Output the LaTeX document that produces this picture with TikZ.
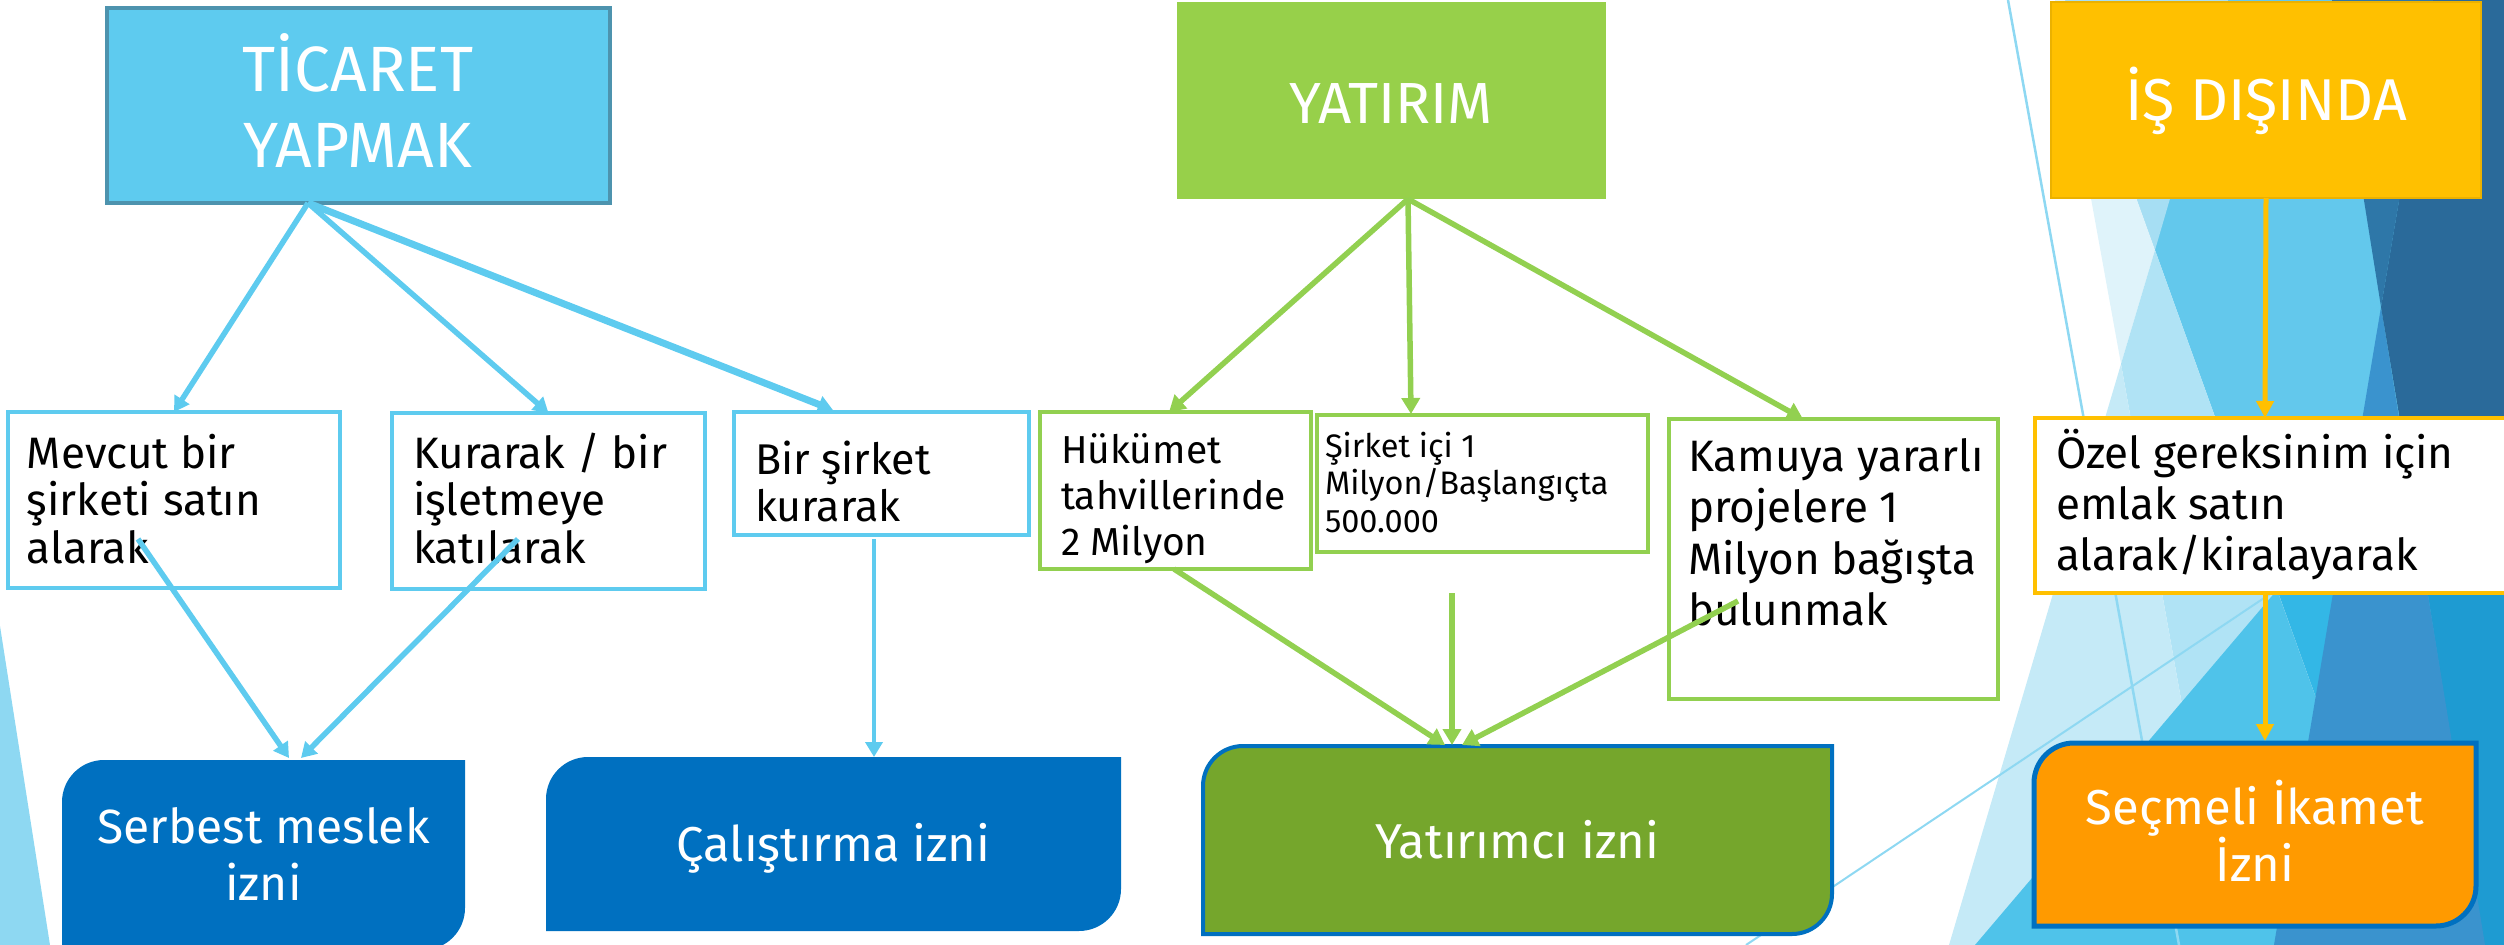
\documentclass[tikz,border=0pt]{standalone}
\usepackage{fontspec}
\setmainfont{Fira Sans}
\usetikzlibrary{arrows.meta,calc}
\definecolor{tblue}{HTML}{5ECBEF}
\definecolor{tblueb}{HTML}{4D93AE}
\definecolor{tgreen}{HTML}{92D050}
\definecolor{hgreen}{HTML}{97D04A}
\definecolor{tgold}{HTML}{FFC000}
\definecolor{pblue}{HTML}{0070C0}
\definecolor{pgreen}{HTML}{75A62C}
\definecolor{porange}{HTML}{FF9A00}
\definecolor{bgM}{HTML}{63C8EC}
\definecolor{bgTW}{HTML}{A6DEF3}
\definecolor{bgLW}{HTML}{DFF3FA}
\definecolor{bgDa}{HTML}{B0E3F5}
\definecolor{bgDb}{HTML}{C5EAF7}
\definecolor{bgD}{HTML}{4FC3EA}
\definecolor{bgC}{HTML}{33B7E6}
\definecolor{bgF}{HTML}{3A93CE}
\definecolor{bgR}{HTML}{1E9BD2}
\definecolor{bgK}{HTML}{2A6A9A}
\definecolor{bgKW}{HTML}{2E77A8}
\definecolor{bgL}{HTML}{8ED8F2}
\newcommand\rdshape[3]{%
  \path[#3] ([xshift=#2pt]#1.north west) -- (#1.north east) -- ([yshift=#2pt]#1.south east)
    .. controls ([yshift=0.448*#2pt]#1.south east) and ([xshift=-0.448*#2pt]#1.south east) .. ([xshift=-#2pt]#1.south east)
    -- (#1.south west) -- ([yshift=-#2pt]#1.north west)
    .. controls ([yshift=-0.448*#2pt]#1.north west) and ([xshift=0.448*#2pt]#1.north west) .. ([xshift=#2pt]#1.north west) -- cycle;}
\tikzset{
  wbox/.style={rectangle, fill=white, line width=4pt, inner sep=0pt, outer sep=0pt},
  hbox/.style={rectangle, inner sep=0pt, outer sep=0pt},
  shp/.style={rectangle, inner sep=0pt, outer sep=0pt},
  lbl/.style={anchor=base west, inner sep=0pt, outer sep=0pt, text=black},
  clbl/.style={anchor=base, inner sep=0pt, outer sep=0pt, text=white},
  barrow/.style={draw=tblue, line width=5.5pt, -{Triangle[width=17pt,length=15pt]}},
  garrow/.style={draw=tgreen, line width=5.5pt, -{Triangle[width=18pt,length=16pt]}},
  yarrow/.style={draw=tgold, line width=5pt, -{Triangle[width=17pt,length=17pt]}},
  bgline/.style={draw=bgL, line width=2.5pt}
}
\begin{document}
\begin{tikzpicture}[x=1pt,y=-1pt]
\useasboundingbox (0,0) rectangle (2504,945);
\clip (0,0) rectangle (2504,945);
% ---------- background decoration ----------
\fill[bgM] (2065,0) -- (2504,0) -- (2504,945) -- (2405,945) -- cycle;
\fill[bgTW] (2065,0) -- (2228,0) -- (2155,250) -- cycle;
\fill[bgLW] (2055,0) -- (2065,0) -- (2155,250) -- (2121,364) -- cycle;
\fill[bgDa] (2155,250) -- (2405,945) -- (2225,945) -- (2121,364) -- cycle;
\fill[bgDb] (2121,364) -- (2225,945) -- (1949,945) -- cycle;
\fill[bgD] (2277,590) -- (1975,945) -- (2405,945) -- cycle;
\fill[bgC] (2245,500) -- (2504,500) -- (2504,945) -- (2405,945) -- cycle;
\fill[bgR] (2410,480) -- (2504,480) -- (2504,945) -- (2483,945) -- cycle;
\fill[bgF] (2381,307) -- (2485,945) -- (2274,945) -- cycle;
\fill[bgK] (2433,0) -- (2504,0) -- (2504,480) -- (2410,480) -- (2381,307) -- cycle;
\fill[bgKW] (2332,0) -- (2433,0) -- (2381,307) -- cycle;
\fill[bgL] (0,626) -- (50,945) -- (0,945) -- cycle;
\draw[bgline] (2008,0) -- (2179,945);
\draw[bgline, line width=2pt] (1746,945) -- (2270,594);
% ---------- header boxes ----------
\node[hbox, fill=tblue, draw=tblueb, line width=4pt, minimum width=503pt, minimum height=195pt] (tic) at (358.5,105.5) {};
\node[hbox, fill=hgreen, minimum width=429pt, minimum height=197pt] (yat) at (1391.5,100.5) {};
\node[hbox, fill=tgold, draw=tgold!92!black, line width=1.5pt, minimum width=430pt, minimum height=196pt] (isd) at (2266,100) {};
\node[clbl] (ticT) at (358,91) {\parbox[t]{480pt}{\centering\fontsize{64}{76}\selectfont TİCARET\\YAPMAK}};
\node[clbl] (yatT) at (1391,123) {\parbox[t]{420pt}{\centering\fontsize{58}{70}\selectfont YATIRIM}};
\node[clbl] (isdT) at (2266,120) {\parbox[t]{420pt}{\centering\fontsize{59}{70}\selectfont İŞ DIŞINDA}};
% ---------- middle boxes ----------
\node[wbox, draw=tblue, minimum width=332pt, minimum height=176pt] (mev) at (174,500) {};
\node[wbox, draw=tblue, minimum width=313pt, minimum height=176pt] (kur) at (548.5,501) {};
\node[wbox, draw=tblue, minimum width=295pt, minimum height=123pt] (bir) at (881.5,473.5) {};
\node[wbox, draw=tgreen, minimum width=271pt, minimum height=157pt] (huk) at (1175.5,490.5) {};
\node[wbox, draw=tgreen, minimum width=331pt, minimum height=137pt] (sir) at (1482.5,483.5) {};
\node[wbox, draw=tgreen, minimum width=329pt, minimum height=280pt] (kam) at (1833.5,559) {};
\node[wbox, draw=tgold, minimum width=495pt, minimum height=175pt] (oze) at (2282.5,505.5) {};
\node[lbl] (mevT) at (27,468) {\parbox[t]{320pt}{\fontsize{44}{47.5}\selectfont Mevcut bir\\şirketi satın\\alarak}};
\node[lbl] (kurT) at (413,468) {\parbox[t]{300pt}{\fontsize{44}{47.5}\selectfont Kurarak / bir\\işletmeye\\katılarak}};
\node[lbl] (birT) at (755,474) {\parbox[t]{280pt}{\fontsize{43}{47.5}\selectfont Bir şirket\\kurarak}};
\node[lbl] (hukT) at (1061,463) {\parbox[t]{260pt}{\fontsize{39}{46}\selectfont Hükümet\\tahvillerinde\\2 Milyon}};
\node[lbl] (sirT) at (1325,457) {\parbox[t]{320pt}{\fontsize{32.5}{37.5}\selectfont Şirket içi 1\\Milyon/Başlangıçta\\500.000}};
\node[lbl] (kamT) at (1688,471) {\parbox[t]{320pt}{\fontsize{44}{51.5}\selectfont Kamuya yararlı\\projelere 1\\Milyon bağışta\\bulunmak}};
\node[lbl] (ozeT) at (2056,468) {\parbox[t]{440pt}{\fontsize{44}{51}\selectfont Özel gereksinim için\\emlak satın\\alarak/kiralayarak}};
% ---------- bottom boxes ----------
\node[shp, minimum width=403pt, minimum height=190pt] (ser) at (263.5,855) {};
\node[shp, minimum width=575pt, minimum height=174pt] (cal) at (833.5,844) {};
\node[shp, minimum width=629pt, minimum height=188pt] (yti) at (1517.5,840) {};
\node[shp, minimum width=442pt, minimum height=183pt] (sec) at (2255,834.5) {};
\rdshape{ser}{42}{fill=pblue}
\rdshape{cal}{42}{fill=pblue}
\rdshape{yti}{40}{fill=pgreen, draw=pblue, line width=4pt}
\rdshape{sec}{40}{fill=porange, draw=pblue, line width=5pt}
\node[clbl] (serT) at (263.5,843) {\parbox[t]{400pt}{\centering\fontsize{48}{57}\selectfont Serbest meslek\\izni}};
\node[clbl] (calT) at (833.5,861) {\parbox[t]{560pt}{\centering\fontsize{49}{57}\selectfont Çalıştırma izni}};
\node[clbl] (ytiT) at (1517.5,858) {\parbox[t]{600pt}{\centering\fontsize{49}{57}\selectfont Yatırımcı izni}};
\node[clbl] (secT) at (2255,824) {\parbox[t]{440pt}{\centering\fontsize{49}{57}\selectfont Seçmeli İkamet\\İzni}};
% ---------- connector coordinates ----------
\coordinate (ticB) at (308,203);
\coordinate (birIn) at (833,410);
\coordinate (mevS) at (138,539);
\coordinate (kurS) at (518,539);
\coordinate (serA) at (289,758);
\coordinate (serB) at (301,758);
\coordinate (birS) at (874,539);
\coordinate (calA) at (874,757);
\coordinate (yatB) at (1408,199);
\coordinate (hukIn) at (1169,412);
\coordinate (sirIn) at (1411,414);
\coordinate (kamIn) at (1803,419);
\coordinate (hukS) at (1174,569);
\coordinate (sirS) at (1452,593);
\coordinate (kamS) at (1738,601);
\coordinate (ytiA) at (1445,745);
\coordinate (ytiB) at (1452,745);
\coordinate (ytiC) at (1462,745);
\coordinate (ozeIn) at (2265,418);
\coordinate (ozeS) at (2265,593);
\coordinate (secIn) at (2265,741);
% ---------- connectors ----------
\draw[barrow] (ticB) -- (mev.north);
\draw[barrow] (ticB) -- (kur.north);
\draw[barrow, line width=7pt] (ticB) -- (birIn);
\draw[barrow] (mevS) -- (serA);
\draw[barrow] (kurS) -- (serB);
\draw[barrow, line width=4.5pt] (birS) -- (calA);
\draw[garrow] (yatB) -- (hukIn);
\draw[garrow] (yatB) -- (sirIn);
\draw[garrow] (yatB) -- (kamIn);
\draw[garrow] (hukS) -- (ytiA);
\draw[garrow] (sirS) -- (ytiB);
\draw[garrow] (kamS) -- (ytiC);
\draw[yarrow] (isd.south) -- (ozeIn);
\draw[yarrow] (ozeS) -- (secIn);
\end{tikzpicture}
\end{document}
